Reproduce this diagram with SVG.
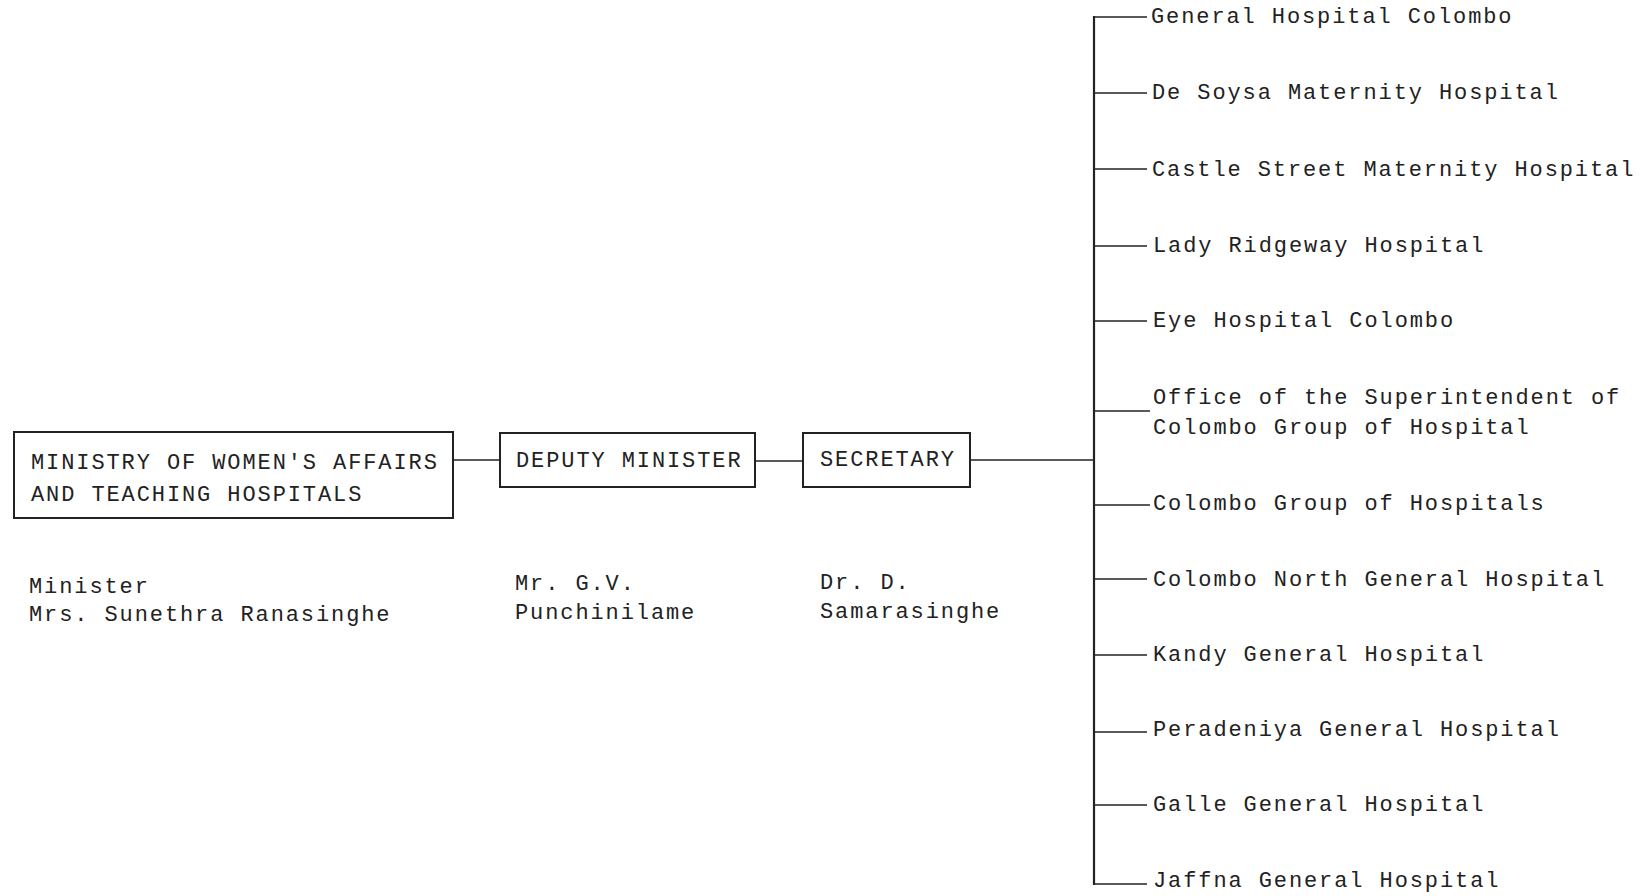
<svg xmlns="http://www.w3.org/2000/svg" width="1640" height="896" viewBox="0 0 1640 896">
<style>
text{font-family:"Liberation Mono","Courier New",monospace;font-size:22px;fill:#222;letter-spacing:1.9px}
.box{fill:#fff;stroke:#222;stroke-width:2}
.ln{stroke:#222;stroke-width:1.6;fill:none}
.vl{stroke:#222;stroke-width:2.2;fill:none}
</style>
<rect width="1640" height="896" fill="#fff"/>
<g id="connectors">
<line class="ln" x1="453" y1="460" x2="500" y2="460"/>
<line class="ln" x1="755" y1="461" x2="803" y2="461"/>
<line class="ln" x1="970" y1="460" x2="1094" y2="460"/>
<line class="vl" x1="1094" y1="16" x2="1094" y2="885"/>
<line class="ln" x1="1094" y1="17" x2="1147" y2="17"/>
<line class="ln" x1="1094" y1="93" x2="1147" y2="93"/>
<line class="ln" x1="1094" y1="169" x2="1147" y2="169"/>
<line class="ln" x1="1094" y1="246" x2="1147" y2="246"/>
<line class="ln" x1="1094" y1="321" x2="1147" y2="321"/>
<line class="ln" x1="1094" y1="411" x2="1150" y2="411"/>
<line class="ln" x1="1094" y1="505" x2="1150" y2="505"/>
<line class="ln" x1="1094" y1="579" x2="1147" y2="579"/>
<line class="ln" x1="1094" y1="655" x2="1147" y2="655"/>
<line class="ln" x1="1094" y1="732" x2="1147" y2="732"/>
<line class="ln" x1="1094" y1="805" x2="1147" y2="805"/>
<line class="ln" x1="1094" y1="884" x2="1147" y2="884"/>
</g>
<g id="ministry">
<rect class="box" x="14" y="432" width="439" height="86"/>
<text x="31" y="469">MINISTRY OF WOMEN'S AFFAIRS</text>
<text x="31" y="501">AND TEACHING HOSPITALS</text>
<text x="29" y="593">Minister</text>
<text x="29" y="621">Mrs. Sunethra Ranasinghe</text>
</g>
<g id="deputy">
<rect class="box" x="500" y="433" width="255" height="54"/>
<text x="516" y="467">DEPUTY MINISTER</text>
<text x="515" y="590">Mr. G.V.</text>
<text x="515" y="619">Punchinilame</text>
</g>
<g id="secretary">
<rect class="box" x="803" y="433" width="167" height="54"/>
<text x="820" y="466">SECRETARY</text>
<text x="820" y="589">Dr. D.</text>
<text x="820" y="618">Samarasinghe</text>
</g>
<g id="h1"><text x="1151" y="23">General Hospital Colombo</text></g>
<g id="h2"><text x="1152" y="99">De Soysa Maternity Hospital</text></g>
<g id="h3"><text x="1152" y="176">Castle Street Maternity Hospital</text></g>
<g id="h4"><text x="1153" y="252">Lady Ridgeway Hospital</text></g>
<g id="h5"><text x="1153" y="327">Eye Hospital Colombo</text></g>
<g id="h6"><text x="1153" y="404">Office of the Superintendent of</text><text x="1153" y="434">Colombo Group of Hospital</text></g>
<g id="h7"><text x="1153" y="510">Colombo Group of Hospitals</text></g>
<g id="h8"><text x="1153" y="586">Colombo North General Hospital</text></g>
<g id="h9"><text x="1153" y="661">Kandy General Hospital</text></g>
<g id="h10"><text x="1153" y="736">Peradeniya General Hospital</text></g>
<g id="h11"><text x="1153" y="811">Galle General Hospital</text></g>
<g id="h12"><text x="1153" y="887">Jaffna General Hospital</text></g>
</svg>
